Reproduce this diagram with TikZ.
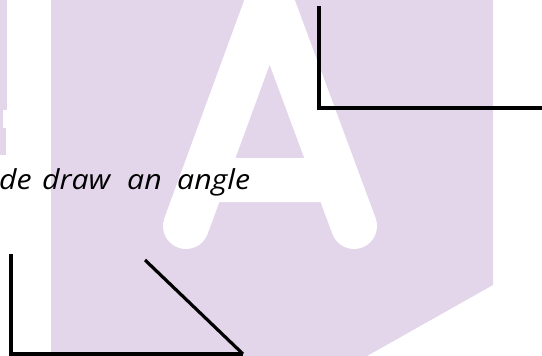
\documentclass[tikz,border=0pt]{standalone}
\usepackage{fontspec}
\newfontfamily\handfont{Open Sans}
\definecolor{lav}{RGB}{227,214,235}
\newcommand{\wideword}[1]{\scalebox{1.1}[1]{#1}}
\tikzset{
  angleline/.style={draw=black, line width=3.2pt, line join=miter, line cap=butt},
  bgshape/.style={fill=lav, draw=none},
  letterleg/.style={draw=white, line width=46pt, line cap=round},
  letter/.style={fill=white, draw=none},
  word/.style={anchor=base west, inner sep=0pt, font=\handfont\itshape\fontsize{27.5}{32}\selectfont}
}
\begin{document}
\begin{tikzpicture}[x=1pt,y=-1pt]
\useasboundingbox (0,0) rectangle (542,356);
\clip (0,0) rectangle (542,356);
% background panel
\fill[bgshape] (51,0) -- (493,0) -- (493,285) -- (367,356) -- (51,356) -- cycle;
% left strip (edge of previous letter)
\fill[bgshape] (0,0) rectangle (6.5,110);
\fill[bgshape] (0,110) rectangle (3.3,128);
\fill[bgshape] (0,128) rectangle (6,155);
% letter A
\coordinate (lf) at (186,226);
\coordinate (rf) at (354,226);
\coordinate (lt) at (278,-25);
\coordinate (rt) at (261,-25);
\draw[letterleg] (lf) -- (lt);
\draw[letterleg] (rf) -- (rt);
\fill[letter] (230,158) -- (310,158) -- (327,202) -- (212,202) -- cycle;
% text
\node[word] (w1) at (-1,189) {\wideword{de}};
\node[word] (w2) at (42,189) {\wideword{draw}};
\node[word] (w3) at (127,189) {\wideword{an}};
\node[word] (w4) at (177,189) {\wideword{angle}};
% top-right angle
\coordinate (a1) at (319,6);
\coordinate (v1) at (319,108);
\coordinate (b1) at (545,108);
\draw[angleline] (a1) -- (v1) -- (b1);
% bottom-left right angle
\coordinate (a2) at (11,254);
\coordinate (v2) at (11,354);
\coordinate (b2) at (243,354);
\draw[angleline] (a2) -- (v2) -- (b2);
% acute angle ray
\coordinate (c2) at (145,260);
\draw[angleline] (b2) -- (c2);
\end{tikzpicture}
\end{document}
